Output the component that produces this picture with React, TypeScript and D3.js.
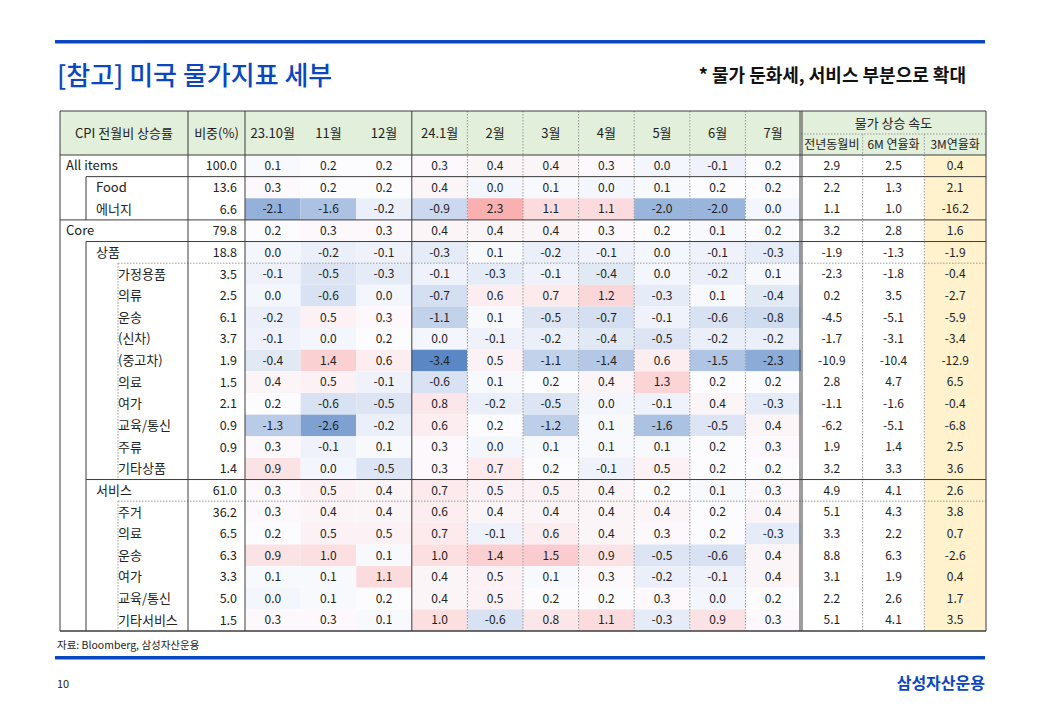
import React from "react";
import * as d3 from "d3";

const months = ["23.10월", "11월", "12월", "24.1월", "2월", "3월", "4월", "5월", "6월", "7월"];
const speedHeaders = ["전년동월비", "6M 연율화", "3M연율화"];

const labels = ["All items", "Food", "에너지", "Core", "상품", "가정용품", "의류", "운송", "(신차)", "(중고차)", "의료", "여가", "교육/통신", "주류", "기타상품", "서비스", "주거", "의료", "운송", "여가", "교육/통신", "기타서비스"];
const levels = [0, 1, 1, 0, 1, 2, 2, 2, 2, 2, 2, 2, 2, 2, 2, 1, 2, 2, 2, 2, 2, 2];
const weights = ["100.0", "13.6", "6.6", "79.8", "18.8", "3.5", "2.5", "6.1", "3.7", "1.9", "1.5", "2.1", "0.9", "0.9", "1.4", "61.0", "36.2", "6.5", "6.3", "3.3", "5.0", "1.5"];

const monthly: number[][] = [
  [0.1, 0.2, 0.2, 0.3, 0.4, 0.4, 0.3, 0.0, -0.1, 0.2],
  [0.3, 0.2, 0.2, 0.4, 0.0, 0.1, 0.0, 0.1, 0.2, 0.2],
  [-2.1, -1.6, -0.2, -0.9, 2.3, 1.1, 1.1, -2.0, -2.0, 0.0],
  [0.2, 0.3, 0.3, 0.4, 0.4, 0.4, 0.3, 0.2, 0.1, 0.2],
  [0.0, -0.2, -0.1, -0.3, 0.1, -0.2, -0.1, 0.0, -0.1, -0.3],
  [-0.1, -0.5, -0.3, -0.1, -0.3, -0.1, -0.4, 0.0, -0.2, 0.1],
  [0.0, -0.6, 0.0, -0.7, 0.6, 0.7, 1.2, -0.3, 0.1, -0.4],
  [-0.2, 0.5, 0.3, -1.1, 0.1, -0.5, -0.7, -0.1, -0.6, -0.8],
  [-0.1, 0.0, 0.2, 0.0, -0.1, -0.2, -0.4, -0.5, -0.2, -0.2],
  [-0.4, 1.4, 0.6, -3.4, 0.5, -1.1, -1.4, 0.6, -1.5, -2.3],
  [0.4, 0.5, -0.1, -0.6, 0.1, 0.2, 0.4, 1.3, 0.2, 0.2],
  [0.2, -0.6, -0.5, 0.8, -0.2, -0.5, 0.0, -0.1, 0.4, -0.3],
  [-1.3, -2.6, -0.2, 0.6, 0.2, -1.2, 0.1, -1.6, -0.5, 0.4],
  [0.3, -0.1, 0.1, 0.3, 0.0, 0.1, 0.1, 0.1, 0.2, 0.3],
  [0.9, 0.0, -0.5, 0.3, 0.7, 0.2, -0.1, 0.5, 0.2, 0.2],
  [0.3, 0.5, 0.4, 0.7, 0.5, 0.5, 0.4, 0.2, 0.1, 0.3],
  [0.3, 0.4, 0.4, 0.6, 0.4, 0.4, 0.4, 0.4, 0.2, 0.4],
  [0.2, 0.5, 0.5, 0.7, -0.1, 0.6, 0.4, 0.3, 0.2, -0.3],
  [0.9, 1.0, 0.1, 1.0, 1.4, 1.5, 0.9, -0.5, -0.6, 0.4],
  [0.1, 0.1, 1.1, 0.4, 0.5, 0.1, 0.3, -0.2, -0.1, 0.4],
  [0.0, 0.1, 0.2, 0.4, 0.5, 0.2, 0.2, 0.3, 0.0, 0.2],
  [0.3, 0.3, 0.1, 1.0, -0.6, 0.8, 1.1, -0.3, 0.9, 0.3],
];

const speed: number[][] = [
  [2.9, 2.5, 0.4],
  [2.2, 1.3, 2.1],
  [1.1, 1.0, -16.2],
  [3.2, 2.8, 1.6],
  [-1.9, -1.3, -1.9],
  [-2.3, -1.8, -0.4],
  [0.2, 3.5, -2.7],
  [-4.5, -5.1, -5.9],
  [-1.7, -3.1, -3.4],
  [-10.9, -10.4, -12.9],
  [2.8, 4.7, 6.5],
  [-1.1, -1.6, -0.4],
  [-6.2, -5.1, -6.8],
  [1.9, 1.4, 2.5],
  [3.2, 3.3, 3.6],
  [4.9, 4.1, 2.6],
  [5.1, 4.3, 3.8],
  [3.3, 2.2, 0.7],
  [8.8, 6.3, -2.6],
  [3.1, 1.9, 0.4],
  [2.2, 2.6, 1.7],
  [5.1, 4.1, 3.5],
];

const FONT = "'Noto Sans CJK KR', 'Noto Sans', sans-serif";
const BLUE = "#0a47c0";
const LINE = "#3c3c3c";
const DOT = "#9a9a9a";

export default function App() {
  const tLeft = 60, tRight = 986;
  const tTop = 111, hBottom = 155, tBottom = 631;
  const labelRight = 188, weightRight = 245, monthRight = 801;

  const y = d3.scaleBand<number>().domain(d3.range(labels.length)).range([hBottom, tBottom]).padding(0);
  const xm = d3.scaleBand<number>().domain(d3.range(months.length)).range([weightRight, monthRight]).padding(0);
  const xs = d3.scaleBand<number>().domain(d3.range(speedHeaders.length)).range([monthRight, tRight]).padding(0);
  const color = d3.scaleLinear<string>().domain([-3.4, 0.2, 4.2]).range(["#5b87c5", "#fcfcff", "#f8696b"]).clamp(true);

  const rh = y.bandwidth();
  const fmt = (v: number) => v.toFixed(1);
  const indentX = [66, 96, 118];

  const rowTop = (i: number) => y(i) as number;
  const rowBot = (i: number) => (y(i) as number) + rh;

  return (
    <svg width={1040} height={720} style={{ position: "absolute", left: 0, top: 0, background: "#fff" }} fontFamily={FONT}>
      <rect x={55} y={40} width={930} height={3.5} fill={BLUE} />
      <text x={57} y={85} fontSize={26} fontWeight={500} fill={BLUE}>[참고] 미국 물가지표 세부</text>
      <text x={966} y={82} fontSize={18} fontWeight={700} fill="#111" textAnchor="end">* 물가 둔화세, 서비스 부분으로 확대</text>

      <rect x={tLeft} y={tTop} width={tRight - tLeft} height={hBottom - tTop} fill="#e2efda" />

      {monthly.map((row, i) =>
        row.map((v, j) => (
          <rect key={`c${i}-${j}`} x={xm(j)} y={rowTop(i)} width={xm.bandwidth()} height={rh} fill={color(v)} />
        ))
      )}
      <rect x={xs(2)} y={hBottom} width={xs.bandwidth()} height={tBottom - hBottom} fill="#fff2cc" />

      <text x={(tLeft + labelRight) / 2} y={(tTop + hBottom) / 2 + 4.5} fontSize={13} textAnchor="middle" fill="#222">CPI 전월비 상승률</text>
      <text x={(labelRight + weightRight) / 2} y={(tTop + hBottom) / 2 + 4.5} fontSize={13} textAnchor="middle" fill="#222">비중(%)</text>
      {months.map((m, j) => (
        <text key={`m${j}`} x={(xm(j) as number) + xm.bandwidth() / 2} y={(tTop + hBottom) / 2 + 4.5} fontSize={13} textAnchor="middle" fill="#222">{m}</text>
      ))}
      <text x={(monthRight + tRight) / 2} y={128} fontSize={13} textAnchor="middle" fill="#222">물가 상승 속도</text>
      {speedHeaders.map((h, j) => (
        <text key={`s${j}`} x={(xs(j) as number) + xs.bandwidth() / 2} y={149} fontSize={12} textAnchor="middle" fill="#222">{h}</text>
      ))}

      {labels.map((l, i) => (
        <g key={`r${i}`}>
          <text x={indentX[levels[i]]} y={rowTop(i) + rh / 2 + 4.5} fontSize={13} fill="#222">{l}</text>
          <text x={weightRight - 8} y={rowTop(i) + rh / 2 + 4.5} fontSize={12.5} fill="#222" textAnchor="end">{weights[i]}</text>
          {monthly[i].map((v, j) => (
            <text key={j} x={(xm(j) as number) + xm.bandwidth() / 2} y={rowTop(i) + rh / 2 + 4.3} fontSize={12} fill="#222" textAnchor="middle">{fmt(v)}</text>
          ))}
          {speed[i].map((v, j) => (
            <text key={`sp${j}`} x={(xs(j) as number) + xs.bandwidth() / 2} y={rowTop(i) + rh / 2 + 4.3} fontSize={12} fill="#222" textAnchor="middle">{fmt(v)}</text>
          ))}
        </g>
      ))}

      <g stroke={DOT} strokeWidth={1} strokeDasharray="1.5,1.5">
        {d3.range(4, months.length).map((j) => (
          <line key={`vd${j}`} x1={xm(j)} x2={xm(j)} y1={tTop} y2={tBottom} />
        ))}
        {[1, 2].map((j) => (
          <line key={`vs${j}`} x1={xs(j)} x2={xs(j)} y1={134} y2={tBottom} />
        ))}
        <line x1={monthRight} x2={tRight} y1={134} y2={134} />
        <line x1={118} x2={tRight} y1={rowBot(4)} y2={rowBot(4)} />
        <line x1={118} x2={tRight} y1={rowBot(15)} y2={rowBot(15)} />
        <line x1={118} x2={118} y1={rowBot(4)} y2={rowTop(15)} />
        <line x1={118} x2={118} y1={rowBot(15)} y2={tBottom} />
      </g>

      <g stroke={LINE} strokeWidth={1}>
        <line x1={tLeft} x2={tRight} y1={tTop} y2={tTop} />
        <line x1={tLeft} x2={tRight} y1={hBottom} y2={hBottom} />
        <line x1={tLeft} x2={tRight} y1={tBottom} y2={tBottom} strokeWidth={1.5} />
        <line x1={86} x2={tRight} y1={rowTop(1)} y2={rowTop(1)} />
        <line x1={tLeft} x2={tRight} y1={rowTop(3)} y2={rowTop(3)} />
        <line x1={86} x2={tRight} y1={rowTop(4)} y2={rowTop(4)} />
        <line x1={86} x2={tRight} y1={rowTop(15)} y2={rowTop(15)} />
        <line x1={tLeft} x2={tLeft} y1={tTop} y2={tBottom} />
        <line x1={tRight} x2={tRight} y1={tTop} y2={tBottom} />
        <line x1={86} x2={86} y1={rowTop(1)} y2={rowTop(3)} />
        <line x1={86} x2={86} y1={rowTop(4)} y2={tBottom} />
        <line x1={labelRight} x2={labelRight} y1={tTop} y2={tBottom} />
        <line x1={weightRight} x2={weightRight} y1={tTop} y2={tBottom} />
        <line x1={xm(3)} x2={xm(3)} y1={tTop} y2={tBottom} />
        <line x1={monthRight - 1} x2={monthRight - 1} y1={tTop} y2={tBottom} />
        <line x1={monthRight + 1} x2={monthRight + 1} y1={tTop} y2={tBottom} />
      </g>

      <text x={57} y={649} fontSize={10.5} fill="#222">자료: Bloomberg, 삼성자산운용</text>
      <rect x={55} y={656} width={930} height={3.5} fill={BLUE} />
      <text x={57} y={688} fontSize={11} fill="#222">10</text>
      <text x={985} y={689} fontSize={16} fontWeight={700} fill={BLUE} textAnchor="end">삼성자산운용</text>
    </svg>
  );
}
